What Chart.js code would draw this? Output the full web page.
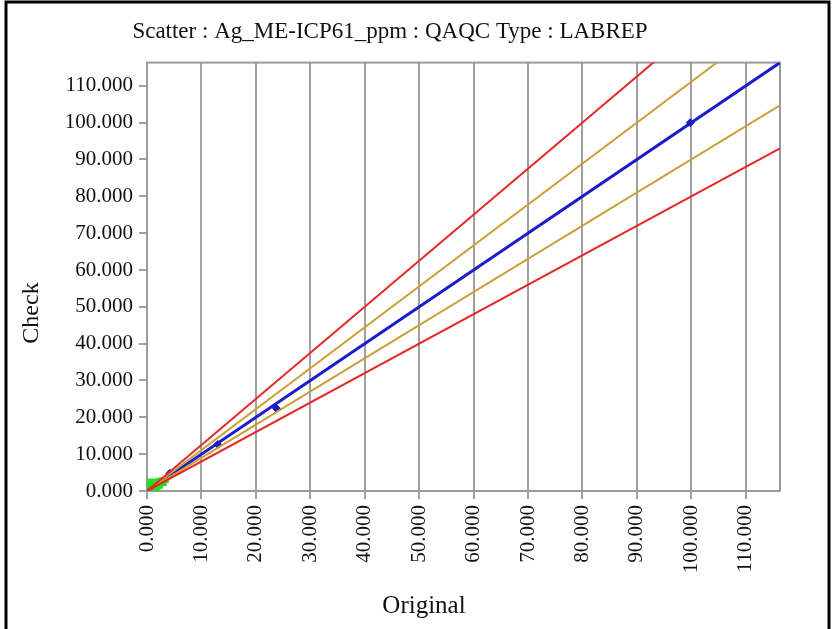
<!DOCTYPE html>
<html>
<head>
<meta charset="utf-8">
<script src="https://cdn.jsdelivr.net/npm/chart.js@4"></script>
<style>
  body { margin: 0; background: #fff; }
  #wrap { width: 832px; height: 629px; position: relative; }
</style>
</head>
<body>
<div id="wrap"><canvas id="scatterChart" width="832" height="629"></canvas></div>
<script>
// axis range and tick values
let axisMax = 116.3;
let tickValues = [0, 10, 20, 30, 40, 50, 60, 70, 80, 90, 100, 110];

// guide lines (x values and matching y values)
let lineX = [0, 116.3];
let oneToOne = [0, 116.3];
let upper10 = [0, 129.2];
let lower10 = [0, 104.7];
let upper20 = [0, 145.4];
let lower20 = [0, 93.0];

// samples: blue points on the 1:1 line, green cluster near zero
let blueX = [4.2, 13.0, 23.8, 99.8];
let blueY = [4.8, 12.6, 22.4, 100.0];
let greenX = [0.2, 0.3, 0.4, 0.5, 0.6, 0.8, 1.0, 1.2, 1.5, 1.8, 2.0, 2.3, 2.7, 3.0, 3.4];
let greenY = [0.1, 1.0, 0.5, 1.8, 0.3, 2.5, 0.6, 1.4, 2.2, 0.9, 2.6, 1.5, 2.8, 2.2, 3.0];

let xTitle = 'Original';
let yTitle = 'Check';

let toPoints = (xs, ys) => xs.map((x, i) => ({ x: x, y: ys[i] }));

let serif = "'Liberation Serif', 'DejaVu Serif', serif";

// plot frame, page border and the two axis titles (they sit off-centre in the original)
let frame = {
  id: 'frame',
  beforeDatasetsDraw(chart) {
    let { ctx, chartArea: a } = chart;
    ctx.save();
    ctx.strokeStyle = '#9a9a9a';
    ctx.lineWidth = 2;
    ctx.strokeRect(a.left, a.top, a.right - a.left, a.bottom - a.top);
    ctx.restore();
  },
  afterDraw(chart) {
    let ctx = chart.ctx;
    ctx.save();
    ctx.strokeStyle = '#000';
    ctx.lineWidth = 3;
    ctx.strokeRect(6, 2, 823, 640);

    ctx.fillStyle = '#111';
    ctx.textAlign = 'center';
    ctx.textBaseline = 'alphabetic';
    ctx.font = '25px ' + serif;
    ctx.fillText(xTitle, 424, 613);

    ctx.translate(38, 313);
    ctx.rotate(-Math.PI / 2);
    ctx.font = '24px ' + serif;
    ctx.fillText(yTitle, 0, 0);
    ctx.restore();
  }
};

let lineSet = (ys, color, width) => ({
  type: 'line',
  data: toPoints(lineX, ys),
  borderColor: color,
  borderWidth: width,
  pointRadius: 0,
  fill: false
});

let fixedTicks = (scale) => {
  scale.ticks = tickValues.map(v => ({ value: v }));
};

let ctx = document.getElementById('scatterChart').getContext('2d');

let myChart = new Chart(ctx, {
  type: 'scatter',
  data: {
    datasets: [
      lineSet(upper20, '#e42828', 2),
      lineSet(lower20, '#e42828', 2),
      lineSet(upper10, '#c9a03a', 2),
      lineSet(lower10, '#c9a03a', 2),
      lineSet(oneToOne, '#1c1cc8', 3),
      {
        data: toPoints(blueX, blueY),
        backgroundColor: '#1c1cc8',
        borderColor: '#1c1cc8',
        pointStyle: 'rectRot',
        pointRadius: 4
      },
      {
        data: toPoints(greenX, greenY),
        backgroundColor: '#22e022',
        borderColor: '#22e022',
        pointStyle: 'rect',
        pointRadius: 4
      }
    ]
  },
  options: {
    responsive: false,
    animation: false,
    layout: { padding: { left: 0, right: 52, top: 0, bottom: 0 } },
    plugins: {
      legend: { display: false },
      tooltip: { enabled: false },
      title: {
        display: true,
        text: 'Scatter : Ag_ME-ICP61_ppm : QAQC Type : LABREP',
        color: '#111',
        font: { family: serif, size: 23, weight: 'normal' },
        padding: { top: 18, bottom: 17 }
      }
    },
    scales: {
      x: {
        min: 0,
        max: axisMax,
        afterBuildTicks: fixedTicks,
        afterFit: (scale) => { scale.height = 138; },
        ticks: {
          autoSkip: false,
          minRotation: 90,
          maxRotation: 90,
          padding: 6,
          color: '#111',
          font: { family: serif, size: 21 },
          callback: (v) => v.toFixed(3)
        },
        grid: { color: '#a0a0a0', lineWidth: 2, tickLength: 8, drawOnChartArea: true },
        border: { display: false }
      },
      y: {
        min: 0,
        max: axisMax,
        afterBuildTicks: fixedTicks,
        afterFit: (scale) => { scale.width = 147; },
        ticks: {
          autoSkip: false,
          padding: 6,
          color: '#111',
          font: { family: serif, size: 21 },
          callback: (v) => v.toFixed(3)
        },
        grid: { color: '#a0a0a0', lineWidth: 2, tickLength: 8, drawOnChartArea: false },
        border: { display: false }
      }
    }
  },
  plugins: [frame]
});
</script>
</body>
</html>
